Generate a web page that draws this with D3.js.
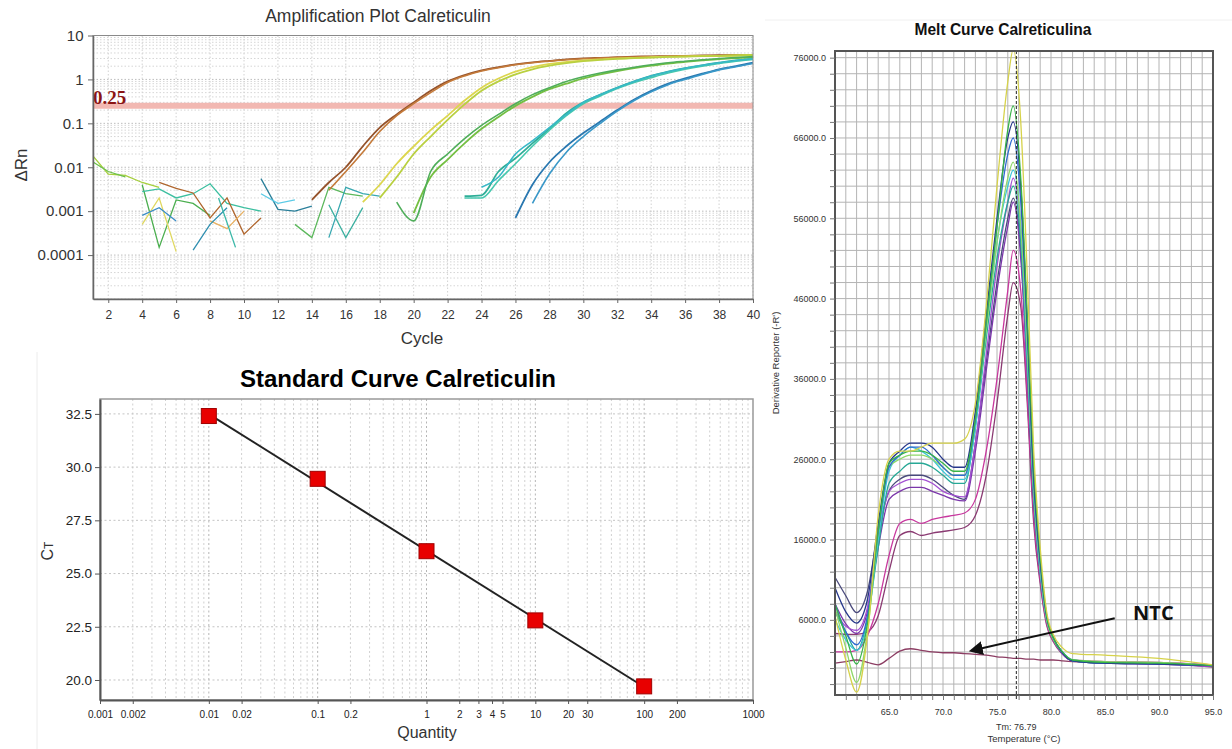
<!DOCTYPE html>
<html>
<head>
<meta charset="utf-8">
<script src="https://cdn.jsdelivr.net/npm/d3@7"></script>
<style>
  body { margin: 0; background: #fff; }
  svg { display: block; font-family: "Liberation Sans", Arial, sans-serif; }
</style>
</head>
<body>
<div id="chart"></div>
<script>
// ---------- amplification plot (delta Rn per cycle) ----------
const cycleTicks = [2, 4, 6, 8, 10, 12, 14, 16, 18, 20, 22, 24, 26, 28, 30, 32, 34, 36, 38, 40];
const rnTicks = [10, 1, 0.1, 0.01, 0.001, 0.0001];
const threshold = 0.25;

// amplified runs, first value belongs to the start cycle listed in ampRuns
const brownA  = [0.0018, 0.0045, 0.01, 0.03, 0.08, 0.16, 0.3, 0.55, 0.9, 1.25, 1.6, 1.9, 2.2, 2.45, 2.65, 2.85, 3.0, 3.1, 3.2, 3.3, 3.35, 3.4, 3.45, 3.5, 3.55, 3.6, 3.6];
const brownB  = [0.003, 0.008, 0.022, 0.065, 0.15, 0.28, 0.5, 0.85, 1.2, 1.55, 1.85, 2.15, 2.4, 2.6, 2.8, 2.95, 3.05, 3.15, 3.25, 3.3, 3.35, 3.4, 3.45, 3.5, 3.55, 3.6];
const yellowA = [0.0016, 0.004, 0.012, 0.03, 0.07, 0.15, 0.33, 0.65, 1.05, 1.5, 1.9, 2.25, 2.5, 2.7, 2.85, 3.0, 3.1, 3.2, 3.3, 3.35, 3.4, 3.45, 3.5, 3.6];
const yellowB = [0.002, 0.006, 0.02, 0.05, 0.12, 0.27, 0.55, 0.9, 1.3, 1.7, 2.05, 2.35, 2.6, 2.8, 2.95, 3.05, 3.15, 3.25, 3.3, 3.4, 3.45, 3.5, 3.6];
const greenA  = [0.0009, 0.006, 0.015, 0.035, 0.075, 0.14, 0.25, 0.4, 0.6, 0.8, 1.05, 1.3, 1.55, 1.8, 2.05, 2.3, 2.5, 2.7, 2.9, 3.05, 3.2, 3.3];
const greenB  = [0.0016, 0.0006, 0.008, 0.02, 0.045, 0.09, 0.16, 0.28, 0.45, 0.65, 0.9, 1.15, 1.4, 1.65, 1.9, 2.15, 2.4, 2.6, 2.8, 3.0, 3.15, 3.3];
const tealA   = [0.0022, 0.0023, 0.008, 0.016, 0.035, 0.075, 0.17, 0.3, 0.45, 0.65, 0.9, 1.2, 1.5, 1.8, 2.1, 2.4, 2.7, 2.9];
const tealB   = [0.002, 0.002, 0.005, 0.012, 0.03, 0.07, 0.15, 0.28, 0.42, 0.62, 0.85, 1.1, 1.4, 1.7, 2.0, 2.3, 2.6, 2.85];
const tealC   = [0.0035, 0.006, 0.02, 0.04, 0.08, 0.16, 0.3, 0.45, 0.65, 0.9, 1.2, 1.5, 1.8, 2.1, 2.4, 2.7, 2.95];
const blueA   = [0.0007, 0.004, 0.013, 0.03, 0.06, 0.11, 0.2, 0.35, 0.55, 0.8, 1.05, 1.35, 1.7, 2.0, 2.4];
const blueB   = [0.0015, 0.007, 0.022, 0.05, 0.1, 0.19, 0.33, 0.52, 0.76, 1.0, 1.3, 1.65, 1.95, 2.3];

// baseline noise before amplification
const noise1  = [0.02, 0.007, 0.0065, 0.0045, 0.0035];
const noise2  = [0.014, 0.008, 0.006];
const noise3  = [0.004, 0.00015, 0.0018, 0.0015, 0.0008];
const noise4  = [0.0005, 0.002, 0.00012];
const noise5  = [0.0008, 0.0012, 0.0006];
const noise6  = [0.0028, 0.0032, 0.002, 0.0025, 0.0042, 0.0015, 0.0012, 0.001];
const noise7  = [0.0045, 0.0033, 0.0026, 0.0007, 0.002, 0.0003, 0.0007];
const noise8  = [0.0006, 0.0004, 0.001];
const noise9  = [0.00013, 0.0005, 0.0012];
const noise10 = [0.002, 0.00015];
const noise11 = [0.0055, 0.0011, 0.001, 0.0013];
const noise12 = [0.0025, 0.0015, 0.0018];
const noise13 = [0.0005, 0.00025, 0.0035, 0.0025, 0.0022];
const noise14 = [0.0014, 0.00025, 0.0012];
const noise15 = [0.00025, 0.0035, 0.0025, 0.0022];

// ---------- standard curve ----------
const quantities = [0.01, 0.1, 1, 10, 100];
const ctValues = [32.4, 29.45, 26.05, 22.8, 19.7];
const qtyTicks = [0.001, 0.002, 0.01, 0.02, 0.1, 0.2, 1, 2, 3, 4, 5, 10, 20, 30, 100, 200, 1000];
const ctTicks = [20, 22.5, 25, 27.5, 30, 32.5];

// ---------- melt curve (derivative reporter, thousands) ----------
const meltTemps   = [60, 61, 62, 63, 64, 65, 66, 67, 68, 69, 70, 71, 72, 73, 74, 75, 76, 76.5, 77.2, 77.8, 78.4, 79, 79.6, 80.2, 81, 82, 85, 90, 95];
const meltYellow  = [6.5, 1.0, -3.0, 4.0, 19, 26, 27, 27, 27.5, 28, 28, 28, 28.5, 33, 45, 60, 73, 77, 68, 49, 27, 15, 7, 4.2, 2.6, 1.8, 1.6, 1.2, 0.4];
const meltLime    = [7.5, 2.5, -1.8, 4.5, 17, 25, 26, 26.5, 26.5, 26, 25, 24, 24, 31, 42, 53, 61, 63, 55, 40, 22, 12.5, 6, 3.6, 2.0, 1.0, 0.8, 0.7, 0.3];
const meltGreen   = [8.0, 4.0, 0.5, 5.5, 17, 25.5, 26.5, 27, 27, 26.5, 25.5, 24.5, 24.5, 31, 43, 55, 67, 70, 61, 44, 25, 14, 6.5, 3.8, 2.1, 1.0, 0.7, 0.6, 0.3];
const meltTeal    = [7.0, 4.5, 2.2, 6.0, 15, 23, 24.5, 25.5, 25.5, 25, 24, 23, 23, 30, 41, 51, 58, 60, 53, 38, 21, 12, 6, 3.6, 2.0, 0.9, 0.6, 0.6, 0.3];
const meltCyan    = [6.0, 3.5, 2.2, 5.5, 16, 24.5, 26.5, 27.5, 27, 26, 24.5, 23.5, 23.5, 30, 42, 53, 60, 62, 55, 39, 22, 12, 6, 3.7, 2.1, 1.0, 0.7, 0.6, 0.3];
const meltBlue    = [8.0, 4.5, 2.9, 6.5, 17, 25, 26.5, 27.5, 27.5, 26.5, 25, 24, 24, 31, 43, 55, 64, 66, 58, 42, 23, 13, 6.3, 3.8, 2.0, 0.9, 0.6, 0.5, 0.3];
const meltNavy    = [10, 7.0, 5.6, 8.5, 18, 25.5, 27, 28, 28, 27.5, 26, 25, 25, 32, 44, 56, 66, 68, 60, 43, 24, 13.5, 6.5, 3.9, 2.0, 0.9, 0.6, 0.5, 0.3];
const meltSlate   = [11.3, 9.0, 6.9, 9.5, 17, 22, 23.5, 24, 24, 23.5, 22.5, 21.5, 21, 28, 38, 48, 56, 58.5, 52, 37, 21, 12, 6, 3.6, 1.9, 0.9, 0.6, 0.5, 0.3];
const meltPurple  = [8.0, 5.5, 4.3, 7.0, 15, 21, 22, 22.5, 22.5, 22, 21.5, 21, 20.8, 27, 37, 47, 55, 58, 51, 37, 21, 12, 6, 3.6, 1.9, 0.9, 0.6, 0.5, 0.2];
const meltViolet  = [7.2, 5.2, 4.7, 7.5, 16, 22, 23, 23.5, 23.5, 23, 22, 21.5, 21.3, 28, 39, 50, 58, 61, 54, 38, 22, 12, 6, 3.6, 1.9, 0.9, 0.6, 0.5, 0.2];
const meltMagenta = [2.0, 2.0, 2.2, 4.0, 8.0, 14, 18, 18.5, 18, 18.5, 18.8, 19, 19.3, 21, 27, 36, 47, 52, 47, 34, 19, 11, 5.5, 3.4, 1.9, 1.0, 0.8, 0.7, 0.4];
const meltPlum    = [4.3, 4.2, 4.2, 4.5, 6.5, 12, 16.5, 17, 16.5, 16.8, 17, 17.2, 17.5, 19, 24, 33, 44, 48, 45, 33, 18, 10.5, 5.3, 3.3, 1.8, 0.9, 0.7, 0.6, 0.3];
const meltNTC     = [0.6, 0.8, 1.0, 0.7, 0.4, 1.2, 2.1, 2.4, 2.2, 2.0, 1.9, 1.9, 1.8, 1.7, 1.6, 1.4, 1.3, 1.2, 1.2, 1.1, 1.1, 1.0, 1.0, 1.0, 0.9, 0.8, 0.7, 0.6, 0.1];
const meltYTicks = [6, 16, 26, 36, 46, 56, 66, 76];
const meltXTicks = [65, 70, 75, 80, 85, 90, 95];
const tm = 76.79;

const svg = d3.select("#chart").append("svg")
  .attr("width", 1232)
  .attr("height", 749);
svg.append("rect").attr("width", 1232).attr("height", 749).attr("fill", "#fff");

// =============== Amplification plot ===============
const ax = d3.scaleLinear([1.1, 40], [93, 753]);
const ay = d3.scaleLog([1e-5, 10], [299, 35.5]);
const amp = svg.append("g");

amp.append("defs").append("clipPath").attr("id", "ampClip")
  .append("rect").attr("x", 93).attr("y", 35.5).attr("width", 660).attr("height", 263.5);

amp.append("g").selectAll("line")
  .data(ay.ticks())
  .join("line")
    .attr("x1", 93).attr("x2", 753)
    .attr("y1", d => ay(d)).attr("y2", d => ay(d))
    .attr("stroke", d => rnTicks.includes(d) ? "#bdbdbd" : "#d6d6d6")
    .attr("stroke-dasharray", "1.5,2");
amp.append("g").selectAll("line")
  .data(cycleTicks)
  .join("line")
    .attr("x1", d => ax(d)).attr("x2", d => ax(d))
    .attr("y1", 35.5).attr("y2", 299)
    .attr("stroke", "#d2d2d2")
    .attr("stroke-dasharray", "1.5,2");

amp.append("line")
  .attr("x1", 93).attr("x2", 753)
  .attr("y1", ay(threshold)).attr("y2", ay(threshold))
  .attr("stroke", "#f2b8b2").attr("stroke-width", 6);
amp.append("text")
  .attr("x", 93).attr("y", ay(threshold) - 2)
  .attr("font-family", "'Liberation Serif', 'Times New Roman', serif")
  .attr("font-weight", "bold").attr("font-size", 19)
  .attr("fill", "#8b1414")
  .text(threshold);

const ampRuns = [
  {start: 1, rn: noise1, color: "#a6cf3c", w: 1.3},
  {start: 1, rn: noise2, color: "#6cc04a", w: 1.3},
  {start: 4, rn: noise3, color: "#4caf50", w: 1.3},
  {start: 4, rn: noise4, color: "#e0d860", w: 1.3},
  {start: 4, rn: noise5, color: "#3a8cc8", w: 1.3},
  {start: 4, rn: noise6, color: "#3cbfa0", w: 1.3},
  {start: 5, rn: noise7, color: "#b0662e", w: 1.3},
  {start: 8, rn: noise8, color: "#e8b060", w: 1.3},
  {start: 7, rn: noise9, color: "#2f8fb0", w: 1.3},
  {start: 8.5, rn: noise10, color: "#3ab8a8", w: 1.3},
  {start: 11, rn: noise11, color: "#2a7f9a", w: 1.3},
  {start: 11, rn: noise12, color: "#5ccbe6", w: 1.3},
  {start: 13, rn: noise13, color: "#5cb85c", w: 1.3},
  {start: 15, rn: noise14, color: "#3cb0a0", w: 1.3},
  {start: 15, rn: noise15, color: "#38a8b0", w: 1.3},
  {start: 14, rn: brownA, color: "#95532c", w: 1.8},
  {start: 15, rn: brownB, color: "#c47a3a", w: 1.6},
  {start: 17, rn: yellowA, color: "#dcd64e", w: 1.8},
  {start: 18, rn: yellowB, color: "#b9d040", w: 1.8},
  {start: 20, rn: greenA, color: "#74bf42", w: 1.8},
  {start: 19, rn: greenB, color: "#4fae5a", w: 1.6},
  {start: 23, rn: tealA, color: "#2fae98", w: 1.8},
  {start: 23, rn: tealB, color: "#46c8ae", w: 1.6},
  {start: 24, rn: tealC, color: "#38b8c8", w: 1.6},
  {start: 26, rn: blueA, color: "#2a78b0", w: 1.8},
  {start: 27, rn: blueB, color: "#3a98c8", w: 1.6}
];
// noise is drawn cycle to cycle, amplified runs smoothed
const ampLine = d3.line()
  .x(d => ax(d[0]))
  .y(d => ay(d[1]));
amp.append("g").attr("clip-path", "url(#ampClip)")
  .selectAll("path")
  .data(ampRuns)
  .join("path")
    .attr("d", r => ampLine.curve(r.w > 1.5 ? d3.curveMonotoneX : d3.curveLinear)(r.rn.map((v, i) => [r.start + i, v])))
    .attr("fill", "none")
    .attr("stroke", r => r.color)
    .attr("stroke-width", r => r.w);

amp.append("rect")
  .attr("x", 93).attr("y", 35.5).attr("width", 660).attr("height", 263.5)
  .attr("fill", "none").attr("stroke", "#8a8a8a");

const ampXAxis = amp.append("g")
  .attr("transform", "translate(0,299)")
  .call(d3.axisBottom(ax).tickValues(cycleTicks).tickSize(4).tickSizeOuter(0));
const ampYAxis = amp.append("g")
  .attr("transform", "translate(93,0)")
  .call(d3.axisLeft(ay).tickValues(rnTicks).tickFormat(d => String(d)).tickSize(5).tickSizeOuter(0));
ampXAxis.selectAll("text").attr("font-size", 12).attr("fill", "#333").attr("dy", "1.1em");
ampYAxis.selectAll("text").attr("font-size", 15).attr("fill", "#333").attr("dx", "-0.1em");
[ampXAxis, ampYAxis].forEach(g => {
  g.select(".domain").attr("stroke", "#666").attr("stroke-width", 1.5);
  g.selectAll(".tick line").attr("stroke", "#666");
});

amp.append("text")
  .attr("x", 378).attr("y", 22)
  .attr("text-anchor", "middle").attr("font-size", 17.5).attr("fill", "#333")
  .text("Amplification Plot Calreticulin");
amp.append("text")
  .attr("x", 422).attr("y", 344)
  .attr("text-anchor", "middle").attr("font-size", 17).attr("fill", "#333")
  .text("Cycle");
amp.append("text")
  .attr("transform", "translate(27,165) rotate(-90)")
  .attr("text-anchor", "middle").attr("font-size", 17).attr("fill", "#333")
  .text("ΔRn");

// =============== Standard curve ===============
const sx = d3.scaleLog([0.001, 1000], [100, 753]);
const sy = d3.scaleLinear([19.06, 33.2], [700, 399]);
const std = svg.append("g");

std.append("line")
  .attr("x1", 37).attr("x2", 37).attr("y1", 352).attr("y2", 749)
  .attr("stroke", "#ececec");

std.append("g").selectAll("line")
  .data(sx.ticks().filter(d => d > 0.001 && d < 1000))
  .join("line")
    .attr("x1", d => sx(d)).attr("x2", d => sx(d))
    .attr("y1", 399).attr("y2", 700)
    .attr("stroke", d => quantities.includes(d) ? "#b5b5b5" : "#d0d0d0")
    .attr("stroke-dasharray", "2,2.5");
std.append("g").selectAll("line")
  .data(ctTicks)
  .join("line")
    .attr("x1", 100).attr("x2", 753)
    .attr("y1", d => sy(d)).attr("y2", d => sy(d))
    .attr("stroke", "#c4c4c4")
    .attr("stroke-dasharray", "2,2.5");

std.append("rect")
  .attr("x", 100).attr("y", 399).attr("width", 653).attr("height", 301)
  .attr("fill", "none").attr("stroke", "#999").attr("stroke-width", 1.5);

// least squares fit of Ct against log10(quantity)
const lq = quantities.map(Math.log10);
const mx0 = d3.mean(lq), my0 = d3.mean(ctValues);
const slope = d3.sum(lq, (v, i) => (v - mx0) * (ctValues[i] - my0)) / d3.sum(lq, v => (v - mx0) ** 2);
const fit = q => my0 + slope * (Math.log10(q) - mx0);
const qEnds = d3.extent(quantities);
std.append("line")
  .attr("x1", sx(qEnds[0])).attr("y1", sy(fit(qEnds[0])))
  .attr("x2", sx(qEnds[1])).attr("y2", sy(fit(qEnds[1])))
  .attr("stroke", "#222").attr("stroke-width", 2);

std.append("g").selectAll("rect")
  .data(quantities)
  .join("rect")
    .attr("x", d => sx(d) - 7.5)
    .attr("y", (d, i) => sy(ctValues[i]) - 7.5)
    .attr("width", 15).attr("height", 15)
    .attr("fill", "#e80000").attr("stroke", "#a00000").attr("stroke-width", 1);

const stdXAxis = std.append("g")
  .attr("transform", "translate(0,700)")
  .call(d3.axisBottom(sx).tickValues(qtyTicks).tickFormat(d => String(d)).tickSize(4).tickSizeOuter(0));
const stdYAxis = std.append("g")
  .attr("transform", "translate(100,0)")
  .call(d3.axisLeft(sy).tickValues(ctTicks).tickFormat(d3.format(".1f")).tickSize(5).tickSizeOuter(0));
stdXAxis.selectAll("text").attr("font-size", 10).attr("fill", "#222").attr("dy", "1.05em");
stdYAxis.selectAll("text").attr("font-size", 13.5).attr("fill", "#222");
[stdXAxis, stdYAxis].forEach(g => {
  g.select(".domain").attr("stroke", "#555").attr("stroke-width", 2);
  g.selectAll(".tick line").attr("stroke", "#555");
});

std.append("text")
  .attr("x", 398).attr("y", 387)
  .attr("text-anchor", "middle").attr("font-size", 24).attr("font-weight", "bold").attr("fill", "#000")
  .text("Standard Curve Calreticulin");
std.append("text")
  .attr("x", 427).attr("y", 738)
  .attr("text-anchor", "middle").attr("font-size", 16).attr("fill", "#333")
  .text("Quantity");
const ctLabel = std.append("text")
  .attr("transform", "translate(53,551) rotate(-90)")
  .attr("text-anchor", "middle").attr("font-size", 16).attr("fill", "#333");
ctLabel.append("tspan").text("C");
ctLabel.append("tspan").attr("font-size", 12).text("T");

// =============== Melt curve ===============
const mx = d3.scaleLinear([60, 95], [835, 1213]);
const my = d3.scaleLinear([-3.36, 76.83], [695, 51]);
const melt = svg.append("g");

melt.append("line")
  .attr("x1", 765).attr("x2", 1232).attr("y1", 20).attr("y2", 20)
  .attr("stroke", "#f0f0f0");

melt.append("defs").append("clipPath").attr("id", "meltClip")
  .append("rect").attr("x", 835).attr("y", 51).attr("width", 378).attr("height", 644);

const tempGrid = d3.range(61, 95);
const derivGrid = d3.range(-2, 77, 2);
melt.append("g").selectAll("line")
  .data(tempGrid)
  .join("line")
    .attr("x1", d => mx(d)).attr("x2", d => mx(d))
    .attr("y1", 51).attr("y2", 695)
    .attr("stroke", "#b4b4b4");
melt.append("g").selectAll("line")
  .data(derivGrid)
  .join("line")
    .attr("x1", 835).attr("x2", 1213)
    .attr("y1", d => my(d)).attr("y2", d => my(d))
    .attr("stroke", "#b4b4b4");

const meltSeries = [
  {k: meltNTC, color: "#8c3d63"},
  {k: meltPlum, color: "#8a3a72"},
  {k: meltMagenta, color: "#c8379e"},
  {k: meltSlate, color: "#4a4a7c"},
  {k: meltPurple, color: "#7b36aa"},
  {k: meltViolet, color: "#a24fd2"},
  {k: meltTeal, color: "#27a896"},
  {k: meltCyan, color: "#3cc6d8"},
  {k: meltLime, color: "#8fd86a"},
  {k: meltBlue, color: "#2f6bd0"},
  {k: meltNavy, color: "#26378a"},
  {k: meltGreen, color: "#38b448"},
  {k: meltYellow, color: "#d6d24a"}
];
const meltLine = d3.line()
  .x((d, i) => mx(meltTemps[i]))
  .y(d => my(d))
  .curve(d3.curveMonotoneX);
melt.append("g").attr("clip-path", "url(#meltClip)")
  .selectAll("path")
  .data(meltSeries)
  .join("path")
    .attr("d", s => meltLine(s.k))
    .attr("fill", "none")
    .attr("stroke", s => s.color)
    .attr("stroke-width", 1.3);

melt.append("line")
  .attr("x1", mx(tm)).attr("x2", mx(tm))
  .attr("y1", 51).attr("y2", 700)
  .attr("stroke", "#222").attr("stroke-dasharray", "3,2");

melt.append("rect")
  .attr("x", 835).attr("y", 51).attr("width", 378).attr("height", 644)
  .attr("fill", "none").attr("stroke", "#555").attr("stroke-width", 2);

const meltXAxis = melt.append("g")
  .attr("transform", "translate(0,695)")
  .call(d3.axisBottom(mx).tickValues(d3.range(61, 96)).tickFormat(d => meltXTicks.includes(d) ? d.toFixed(1) : "").tickSize(5).tickSizeOuter(0));
const meltYAxis = melt.append("g")
  .attr("transform", "translate(835,0)")
  .call(d3.axisLeft(my).tickValues(derivGrid).tickFormat(d => meltYTicks.includes(d) ? (d * 1000).toFixed(1) : "").tickSize(5).tickSizeOuter(0));
meltXAxis.selectAll("text").attr("font-size", 9).attr("fill", "#333").attr("dy", "1.3em");
meltYAxis.selectAll("text").attr("font-size", 9).attr("fill", "#333").attr("dx", "-0.1em");
[meltXAxis, meltYAxis].forEach(g => {
  g.select(".domain").remove();
  g.selectAll(".tick line").attr("stroke", "#777");
});

melt.append("text")
  .attr("x", 1003).attr("y", 35)
  .attr("text-anchor", "middle").attr("font-size", 17).attr("font-weight", "bold").attr("fill", "#111")
  .attr("textLength", 177).attr("lengthAdjust", "spacingAndGlyphs")
  .text("Melt Curve Calreticulina");
melt.append("text")
  .attr("x", mx(tm)).attr("y", 730)
  .attr("text-anchor", "middle").attr("font-size", 9).attr("fill", "#333")
  .text("Tm: " + tm);
melt.append("text")
  .attr("x", 1024).attr("y", 742)
  .attr("text-anchor", "middle").attr("font-size", 9.5).attr("fill", "#333")
  .text("Temperature (°C)");
melt.append("text")
  .attr("transform", "translate(779,363) rotate(-90)")
  .attr("text-anchor", "middle").attr("font-size", 9.5).attr("fill", "#333")
  .text("Derivative Reporter (-R')");

// NTC annotation, placed in data units
const ntcText = [87.6, 6.0];
const ntcArrow = [[85.9, 6.2], [73.4, 2.4]];
melt.append("defs").append("marker")
  .attr("id", "arrowHead")
  .attr("viewBox", "0 0 10 10").attr("refX", 2).attr("refY", 5)
  .attr("markerWidth", 7).attr("markerHeight", 7).attr("orient", "auto")
  .append("path").attr("d", "M0,0 L10,5 L0,10 z").attr("fill", "#111");
melt.append("line")
  .attr("x1", mx(ntcArrow[0][0])).attr("y1", my(ntcArrow[0][1]))
  .attr("x2", mx(ntcArrow[1][0])).attr("y2", my(ntcArrow[1][1]))
  .attr("stroke", "#111").attr("stroke-width", 2)
  .attr("marker-end", "url(#arrowHead)");
melt.append("text")
  .attr("x", mx(ntcText[0])).attr("y", my(ntcText[1]))
  .attr("font-family", "'Open Sans', 'Liberation Sans', sans-serif")
  .attr("font-size", 20).attr("font-weight", "bold").attr("fill", "#111")
  .text("NTC");
</script>
</body>
</html>
